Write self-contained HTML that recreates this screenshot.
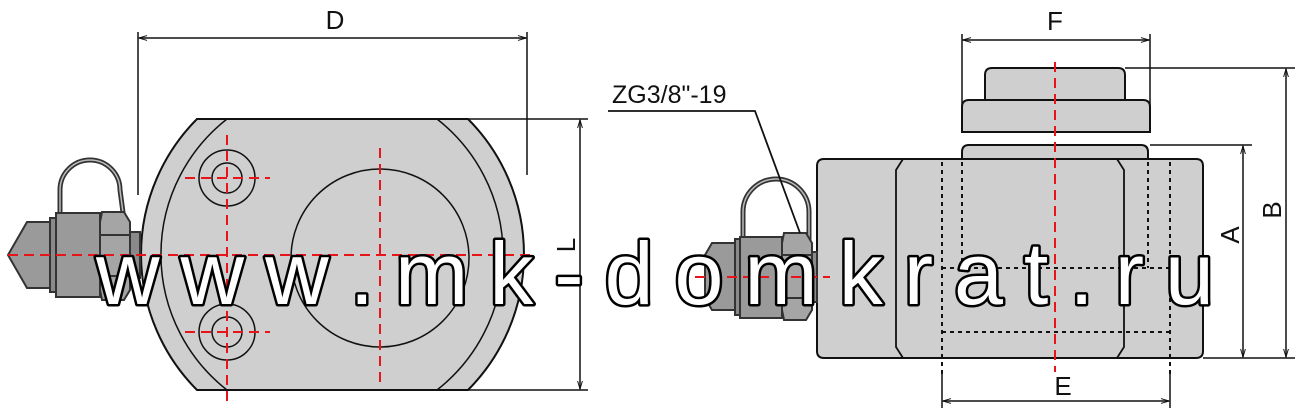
<!DOCTYPE html>
<html><head><meta charset="utf-8"><style>
html,body{margin:0;padding:0;background:#fff;}
svg{display:block;}
text{font-family:"Liberation Sans",Arial,sans-serif;}
</style></head><body>
<svg width="1300" height="414" viewBox="0 0 1300 414" xmlns="http://www.w3.org/2000/svg">
<defs>
<marker id="ar" viewBox="0 0 10 10" refX="10" refY="5" markerWidth="10" markerHeight="8" orient="auto-start-reverse" markerUnits="userSpaceOnUse"><path d="M0,2 L10,5 L0,8" fill="none" stroke="#111" stroke-width="1.2"/></marker>
</defs>
<g stroke="#111" stroke-width="2" fill="#cfcfcf">
<!-- LEFT VIEW body -->
<path d="M197,119 L468,119 A192,192 0 0 1 468,390 L197,390 A192,192 0 0 1 197,119 Z"/>
<path d="M227,119 A172,172 0 0 0 227,390 M437,119 A172,172 0 0 1 437,390" fill="none" stroke-width="1.5"/>
<circle cx="380" cy="258" r="89" fill="none" stroke-width="1.5"/>
<circle cx="227" cy="178" r="28" fill="none" stroke-width="1.5"/>
<circle cx="227" cy="178" r="15" fill="none" stroke-width="1.5"/>
<circle cx="227" cy="332" r="28" fill="none" stroke-width="1.5"/>
<circle cx="227" cy="332" r="15" fill="none" stroke-width="1.5"/>
<!-- left fitting -->
<path d="M60,220 L60,190 A30,30 0 0 1 120,190 L126,235" fill="none" stroke="#333" stroke-width="5"/>
<path d="M60,220 L60,190 A30,30 0 0 1 120,190 L126,235" fill="none" stroke="#bbb" stroke-width="1.5"/>
<path d="M8,255 L27,222 L50,222 L50,288 L27,288 Z" fill="#9a9a9a" stroke="#333"/>
<rect x="50" y="218" width="6" height="74" fill="#8a8a8a" stroke="#333"/>
<rect x="56" y="213" width="44" height="84" fill="#9a9a9a" stroke="#333"/>
<path d="M102,212 L124,212 L130,222 L130,290 L124,300 L102,300 L100,290 L100,222 Z" fill="#a5a5a5" stroke="#333"/>
<line x1="100" y1="235" x2="130" y2="235" stroke="#333"/>
<line x1="100" y1="276" x2="130" y2="276" stroke="#333"/>
<rect x="130" y="232" width="10" height="46" fill="#8a8a8a" stroke="#333"/>

<!-- RIGHT VIEW -->
<path d="M992,68 L1118,68 Q1125,68 1125,75 L1125,100 L985,100 L985,75 Q985,68 992,68 Z"/>
<path d="M969,100 L1143,100 Q1150,100 1150,107 L1150,132 L962,132 L962,107 Q962,100 969,100 Z"/>
<path d="M969,145 L1141,145 Q1148,145 1148,152 L1148,160 L962,160 L962,152 Q962,145 969,145 Z"/>
<path d="M824,159 L1196,159 Q1203,159 1203,166 L1203,351 Q1203,358 1196,358 L824,358 Q817,358 817,351 L817,166 Q817,159 824,159 Z"/>
<path d="M903,159 L896,170 L896,347 L903,358 M1117,159 L1124,170 L1124,347 L1117,358" fill="none" stroke-width="1.8"/>
<g fill="none" stroke-width="2" stroke-dasharray="4,4">
<path d="M942,162 L942,374 M1170,162 L1170,374 M962,162 L962,268 M1148,162 L1148,268 M942,268 L1170,268 M942,332 L1170,332"/>
</g>
<!-- right fitting -->
<path d="M743,240 L743,212 A33,33 0 0 1 809,212 L809,260" fill="none" stroke="#333" stroke-width="5"/>
<path d="M743,240 L743,212 A33,33 0 0 1 809,212 L809,260" fill="none" stroke="#bbb" stroke-width="1.5"/>
<path d="M705,255 L712,243 L735,243 L735,310 L712,310 L705,298 Z" fill="#9a9a9a" stroke="#333"/>
<rect x="735" y="239" width="5" height="76" fill="#8a8a8a" stroke="#333"/>
<rect x="740" y="237" width="42" height="81" fill="#9a9a9a" stroke="#333"/>
<path d="M784,233 L806,233 L812,243 L812,310 L806,320 L784,320 L782,310 L782,243 Z" fill="#a5a5a5" stroke="#333"/>
<line x1="782" y1="255" x2="812" y2="255" stroke="#333"/>
<line x1="782" y1="298" x2="812" y2="298" stroke="#333"/>
<rect x="812" y="252" width="5" height="50" fill="#8a8a8a" stroke="#333"/>
</g>

<!-- red centerlines -->
<g stroke="#e8141a" stroke-width="2" stroke-dasharray="10,6" fill="none">
<line x1="8" y1="255" x2="530" y2="255"/>
<line x1="380" y1="148" x2="380" y2="388"/>
<line x1="227" y1="135" x2="227" y2="405"/>
<line x1="185" y1="178" x2="270" y2="178"/>
<line x1="185" y1="332" x2="270" y2="332"/>
<line x1="1055" y1="62" x2="1055" y2="372"/>
<line x1="695" y1="277" x2="830" y2="277"/>
</g>

<!-- dimensions -->
<g stroke="#111" stroke-width="1.5" fill="none">
<line x1="138" y1="32" x2="138" y2="195"/>
<line x1="527" y1="32" x2="527" y2="175"/>
<line x1="139" y1="38" x2="526" y2="38" marker-start="url(#ar)" marker-end="url(#ar)"/>
<line x1="440" y1="119" x2="588" y2="119"/>
<line x1="440" y1="390" x2="588" y2="390"/>
<line x1="580" y1="120" x2="580" y2="389" marker-start="url(#ar)" marker-end="url(#ar)"/>
<line x1="962" y1="34" x2="962" y2="132"/>
<line x1="1150" y1="34" x2="1150" y2="132"/>
<line x1="963" y1="40" x2="1149" y2="40" marker-start="url(#ar)" marker-end="url(#ar)"/>
<line x1="1125" y1="68" x2="1295" y2="68"/>
<line x1="1150" y1="145" x2="1252" y2="145"/>
<line x1="1203" y1="358" x2="1295" y2="358"/>
<line x1="1243" y1="146" x2="1243" y2="357" marker-start="url(#ar)" marker-end="url(#ar)"/>
<line x1="1286" y1="69" x2="1286" y2="357" marker-start="url(#ar)" marker-end="url(#ar)"/>
<line x1="942" y1="374" x2="942" y2="408"/>
<line x1="1170" y1="374" x2="1170" y2="408"/>
<line x1="943" y1="401" x2="1169" y2="401" marker-start="url(#ar)" marker-end="url(#ar)"/>
<polyline points="608,111 755,111 800,233" stroke-width="1.8"/>
</g>
<g font-size="26" fill="#111">
<text x="335" y="29" text-anchor="middle">D</text>
<text x="1055" y="30" text-anchor="middle">F</text>
<text x="1063" y="395" text-anchor="middle">E</text>
<text transform="translate(575,245) rotate(-90)" text-anchor="middle">L</text>
<text transform="translate(1239,235) rotate(-90)" text-anchor="middle">A</text>
<text transform="translate(1281,210) rotate(-90)" text-anchor="middle">B</text>
<text x="612" y="103" font-size="25">ZG3/8"-19</text>
</g>
<!-- watermark -->
<text x="96" y="304" font-size="88" textLength="1118" lengthAdjust="spacing" fill="#fff" stroke="#000" stroke-width="5" paint-order="stroke" stroke-linejoin="round">w w w . m k - d o m k r a t . r u</text>
</svg>
</body></html>
